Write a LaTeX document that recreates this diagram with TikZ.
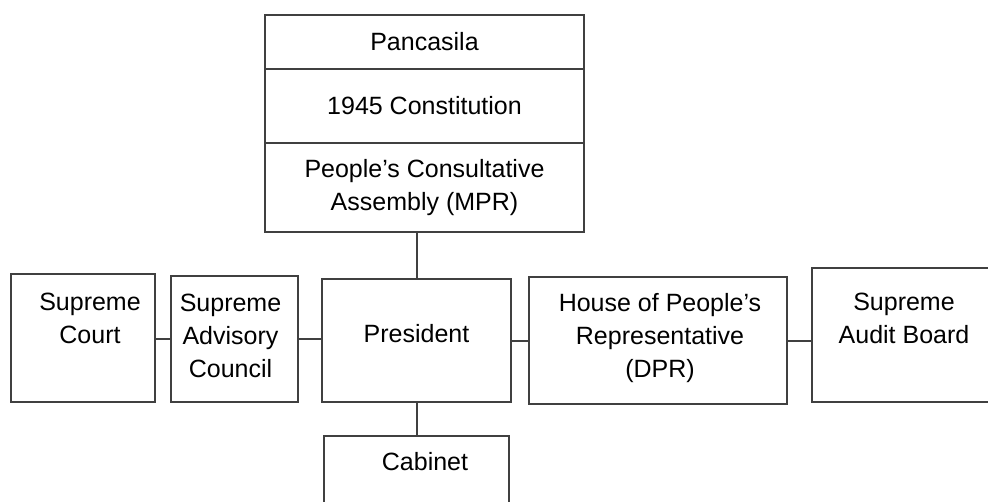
\documentclass[tikz,border=0pt]{standalone}
\usepackage{fontspec}
\setmainfont{Liberation Sans}
\usetikzlibrary{positioning}

\begin{document}
\begin{tikzpicture}[x=1pt,y=-1pt,
    org box/.style={draw=black!75,line width=2pt,outer sep=0pt,inner sep=0pt,
                    align=center,font=\fontsize{25}{33}\selectfont},
    org text/.style={inner sep=0pt,align=center,font=\fontsize{25}{33}\selectfont},
    link/.style={draw=black!75,line width=2pt}]

  \useasboundingbox[fill=white] (0,0) rectangle (988,501);

  % top stack
  \node[org box,minimum width=319pt,minimum height=54pt] (pancasila) at (424.5,42) {Pancasila};
  \node[org box,minimum width=319pt,minimum height=74pt] (constitution) [below=0pt of pancasila] {1945 Constitution};
  \node[org box,minimum width=319pt,minimum height=89pt] (mpr) [below=0pt of constitution] {People's Consultative\\Assembly (MPR)};

  % row of institutions
  \node[org box,minimum width=144pt,minimum height=128pt] (court) at (83,338) {};
  \node[org box,minimum width=127pt,minimum height=126pt] (advisory) at (234.5,339) {};
  \node[org box,minimum width=189pt,minimum height=123pt] (president) at (416.5,340.5) {};
  \node[org box,minimum width=258pt,minimum height=127pt] (dpr) at (658,340.5) {};
  \node[org box,minimum width=184pt,minimum height=134pt] (audit) at (904,335) {};
  \node[org box,minimum width=185pt,minimum height=74pt] (cabinet) at (416,473) {};

  \node[org text,below=19pt of court.north,xshift=7pt] (court text) {Supreme\\Court};
  \node[org text,below=18pt of advisory.north,xshift=-4pt] (advisory text) {Supreme\\Advisory\\Council};
  \node[org text,below=45pt of president.north] (president text) {President};
  \node[org text,below=16pt of dpr.north,xshift=2pt] (dpr text) {House of People's\\Representative\\(DPR)};
  \node[org text,below=25pt of audit.north] (audit text) {Supreme\\Audit Board};
  \node[org text,below=16pt of cabinet.north,xshift=9pt] (cabinet text) {Cabinet};

  \path[every edge/.style={link}]
    (mpr.south -| president.north) edge (president.north)
    (court.east |- advisory.west) edge (advisory.west)
    (advisory.east) edge (advisory.east -| president.west)
    (president.east) edge (dpr.west)
    (dpr.east) edge (dpr.east -| audit.west)
    (president.south) edge (cabinet.north -| president.south)
    ;
\end{tikzpicture}
\end{document}
